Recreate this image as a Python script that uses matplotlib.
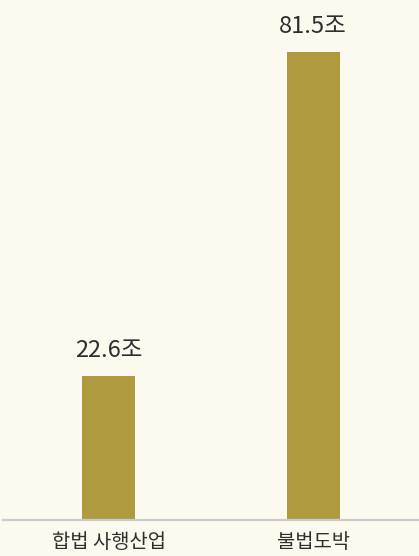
import matplotlib
matplotlib.use("Agg")
import matplotlib.pyplot as plt

categories = ["합법 사행산업", "불법도박"]
values = [22.6, 81.5]
value_labels = ["22.6조", "81.5조"]

plt.rcParams['font.family'] = ['Noto Sans CJK KR', 'DejaVu Sans']

bg = "#FCF9EE"
bar_color = "#B09A40"
text_color = "#2E2E2E"

W, H = 419, 556
fig = plt.figure(figsize=(W/100, H/100), dpi=100, facecolor=bg)
ax = fig.add_axes([3/W, 36/H, 416/W, 520/H], facecolor=bg)

base = -3.58
x = list(range(len(categories)))
ax.bar(x, [v - base for v in values], bottom=base, width=0.259, color=bar_color, zorder=2)

ax.set_xlim(-0.516, 1.518)
ax.set_ylim(base, base + 520/5.5)

for xi, v, lab in zip(x, values, value_labels):
    ax.annotate(lab, (xi, v), xytext=(0, 14), textcoords="offset pixels",
                ha="center", va="bottom", fontsize=17, color=text_color,
                fontweight="medium")

for s in ["top", "right", "left"]:
    ax.spines[s].set_visible(False)
ax.spines["bottom"].set_color("#CCCCCC")
ax.spines["bottom"].set_linewidth(1.6)
ax.spines["bottom"].set_position(("data", base))
ax.set_yticks([])
ax.set_xticks(x)
ax.set_xticklabels(categories, fontsize=14.3, color=text_color)
ax.tick_params(axis="x", length=0, pad=9)

fig.savefig("out.png", dpi=100, facecolor=bg)
